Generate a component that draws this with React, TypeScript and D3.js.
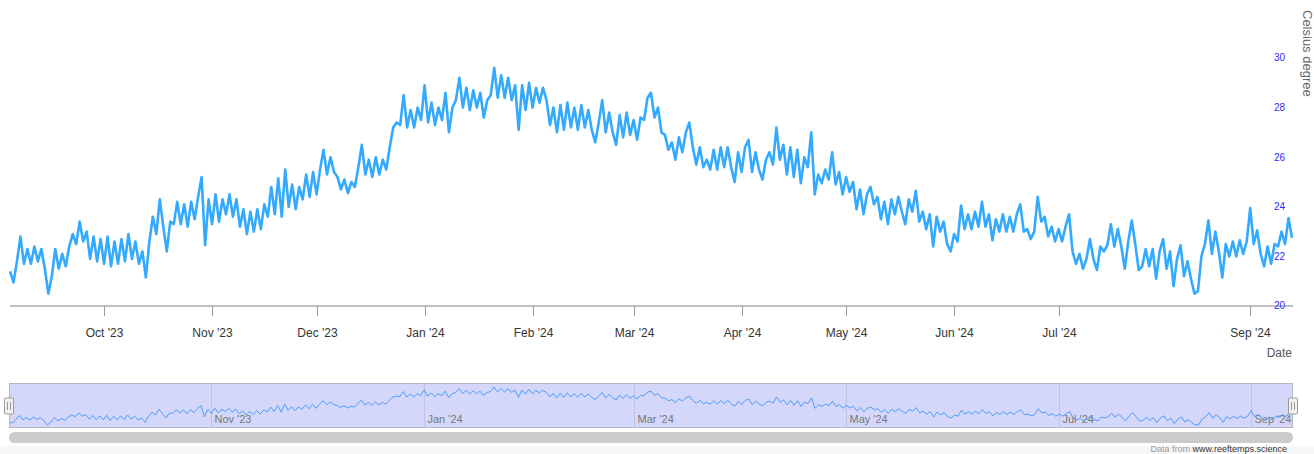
import React from "react";
import * as d3 from "d3";

// ---- data ----
const SEGMENT_A: [string, string] = ["2023-09-04", "2024-08-01"]; // [start, end)
const SEGMENT_B: [string, string] = ["2024-08-08", "2024-09-14"]; // [start, end) after a data gap

const temps: number[] = [
  21.4, 20.95, 21.8, 22.8, 21.7, 22.3, 21.7, 22.4, 21.8, 22.3,
  21.5, 20.5, 21.2, 22.3, 21.5, 22.1, 21.6, 22.4, 22.9, 22.5,
  23.4, 22.6, 23.0, 21.9, 22.8, 21.8, 22.7, 21.7, 22.8, 21.6,
  22.6, 21.7, 22.7, 21.8, 22.9, 21.9, 22.6, 21.7, 22.2, 21.15,
  22.6, 23.6, 22.9, 24.3, 23.2, 22.2, 23.4, 23.3, 24.2, 23.3,
  24.1, 23.2, 24.2, 23.5, 24.4, 25.2, 22.45, 24.3, 23.3, 24.5,
  23.4, 24.3, 23.7, 24.5, 23.6, 24.3, 23.2, 23.9, 22.9, 23.8,
  23.0, 23.9, 23.1, 24.1, 23.6, 24.8, 23.7, 25.15, 23.6, 25.5,
  24.0, 24.9, 23.9, 24.8, 24.3, 25.3, 24.4, 25.4, 24.5, 25.5,
  26.3, 25.3, 26.0, 25.4, 25.2, 24.7, 25.1, 24.55, 25.0, 24.8,
  25.6, 26.5, 25.3, 25.9, 25.2, 26.0, 25.3, 25.9, 25.5, 26.4,
  27.2, 27.4, 27.3, 28.5, 27.2, 27.9, 27.2, 28.0, 27.5, 28.9,
  27.4, 28.2, 27.3, 28.0, 27.5, 28.6, 27.0, 28.0, 28.3, 29.2,
  28.0, 28.8, 27.9, 28.7, 28.0, 28.6, 27.6, 28.3, 28.5, 29.6,
  28.4, 29.3, 28.4, 29.2, 28.3, 28.9, 27.1, 28.9, 27.9, 29.0,
  28.0, 28.8, 28.2, 28.8, 28.3, 27.3, 28.0, 27.0, 28.1, 27.1,
  28.2, 27.2, 28.0, 27.1, 28.1, 27.2, 27.9, 27.1, 26.6, 27.4,
  28.3, 27.0, 27.8, 27.0, 26.5, 27.7, 26.8, 27.8, 26.9, 27.5,
  26.7, 27.6, 27.5, 28.4, 28.6, 27.6, 28.0, 27.0, 26.9, 26.3,
  26.6, 25.9, 26.8, 26.2, 27.0, 27.4, 26.4, 25.7, 26.4, 25.6,
  25.9, 25.5, 26.3, 25.5, 26.4, 25.6, 26.4, 25.6, 25.0, 26.2,
  25.4, 26.4, 26.7, 25.4, 26.2, 25.5, 25.1, 25.9, 26.2, 25.7,
  27.2, 25.9, 26.5, 25.3, 26.4, 25.2, 26.3, 24.95, 26.0, 25.6,
  27.0, 24.5, 25.3, 24.95, 25.5, 25.1, 26.2, 24.9, 25.4, 24.5,
  25.2, 24.6, 25.0, 23.9, 24.7, 23.7, 24.5, 24.8, 24.1, 24.4,
  23.5, 24.2, 23.3, 24.3, 23.7, 24.4, 23.8, 23.3, 24.3, 23.8,
  24.65, 23.4, 23.8, 23.1, 23.7, 22.4, 23.6, 23.0, 23.4, 22.5,
  22.2, 22.9, 22.6, 24.05, 23.1, 23.7, 23.1, 23.8, 23.2, 24.2,
  23.2, 23.7, 22.65, 23.5, 23.0, 23.7, 23.0, 23.6, 23.0, 23.7,
  24.1, 23.0, 23.1, 22.7, 23.0, 24.4, 23.4, 23.6, 22.8, 23.2,
  22.6, 23.1, 22.6, 23.2, 23.7, 22.2, 21.7, 22.1, 21.5, 21.9,
  22.7, 21.9, 21.45, 22.4, 22.2, 22.45, 23.3, 22.4, 23.1, 22.4,
  21.5, 22.6, 23.45, 22.5, 21.45, 21.6, 22.3, 21.6, 22.3, 21.1,
  22.2, 22.7, 21.5, 22.2, 20.8, 21.9, 22.45, 21.2, 21.8, 21.1,
  20.5, 20.6, 22.0, 22.5, 23.45, 22.1, 23.0, 22.2, 21.15, 22.5,
  22.0, 22.6, 22.0, 22.65, 22.1, 22.6, 23.95, 22.5, 23.05, 22.1,
  21.6, 22.4, 21.7, 22.5, 22.4, 23.0, 22.5, 23.55, 22.75,
];

const xTickLabels = ["Oct '23", "Nov '23", "Dec '23", "Jan '24", "Feb '24", "Mar '24", "Apr '24", "May '24", "Jun '24", "Jul '24", "Sep '24"];
const xTickDates = ["2023-10-01", "2023-11-01", "2023-12-01", "2024-01-01", "2024-02-01", "2024-03-01", "2024-04-01", "2024-05-01", "2024-06-01", "2024-07-01", "2024-09-01"];
const navTickLabels = ["Nov '23", "Jan '24", "Mar '24", "May '24", "Jul '24", "Sep '24"];
const navTickDates = ["2023-11-01", "2024-01-01", "2024-03-01", "2024-05-01", "2024-07-01", "2024-09-01"];
const yTicks = [20, 22, 24, 26, 28, 30];

const FONT = "'Liberation Sans', Arial, Helvetica, sans-serif";
const W = 1314;
const H = 454;

const parse = d3.utcParse("%Y-%m-%d");

export default function App() {
  const dates: Date[] = [
    ...d3.utcDay.range(parse(SEGMENT_A[0])!, parse(SEGMENT_A[1])!),
    ...d3.utcDay.range(parse(SEGMENT_B[0])!, parse(SEGMENT_B[1])!),
  ];
  const n = Math.min(dates.length, temps.length);
  const data = d3.range(n).map((i) => ({ i, date: dates[i], t: temps[i] }));

  const plot = { left: 10, right: 1292, top: 58, bottom: 306 };
  const x = d3.scaleLinear().domain([0, n - 1]).range([plot.left, plot.right]);
  const y = d3.scaleLinear().domain([20, 30]).range([plot.bottom, plot.top]);

  const idxOf = (s: string) => d3.bisectLeft(dates.map((d) => +d), +parse(s)!);

  const line = d3
    .line<{ i: number; t: number }>()
    .x((d) => x(d.i))
    .y((d) => y(d.t));

  const nav = { left: 9, right: 1293, top: 383, bottom: 428 };
  const xn = d3.scaleLinear().domain([0, n - 1]).range([nav.left, nav.right]);
  const ext = d3.extent(temps) as [number, number];
  const yn = d3.scaleLinear().domain(ext).range([425, 387]);
  const navLine = d3
    .line<{ i: number; t: number }>()
    .x((d) => xn(d.i))
    .y((d) => yn(d.t));

  const handle = (cx: number) => (
    <g>
      <rect x={cx - 4.5} y={398} width={9} height={16} rx={1} fill="#f2f2f2" stroke="#999" strokeWidth={1} />
      <line x1={cx - 1.5} x2={cx - 1.5} y1={402} y2={410} stroke="#999" strokeWidth={1} />
      <line x1={cx + 1.5} x2={cx + 1.5} y1={402} y2={410} stroke="#999" strokeWidth={1} />
    </g>
  );

  return (
    <div style={{ position: "absolute", left: 0, top: 0 }}>
      <svg width={W} height={H} style={{ display: "block", fontFamily: FONT }}>
        <rect x={0} y={0} width={W} height={H} fill="#fff" />
        <rect x={0} y={446} width={W} height={H - 446} fill="#f7f7f7" />

        {/* main series */}
        <path d={line(data) || ""} fill="none" stroke="#33aaff" strokeWidth={2.6} strokeLinejoin="round" />

        {/* x axis */}
        <line x1={plot.left} x2={plot.right + 1} y1={plot.bottom} y2={plot.bottom} stroke="#c0c0c0" strokeWidth={2} />
        {xTickLabels.map((lab, k) => {
          const px = Math.round(x(idxOf(xTickDates[k]))) + 0.5;
          return (
            <g key={lab}>
              <line x1={px} x2={px} y1={plot.bottom} y2={plot.bottom + 10} stroke="#999" strokeWidth={1} />
              <text x={px} y={337} textAnchor="middle" fontSize={12} fill="#333">
                {lab}
              </text>
            </g>
          );
        })}
        <text x={1292} y={357} textAnchor="end" fontSize={12} fill="#555">
          Date
        </text>

        {/* y axis (right) */}
        {yTicks.map((t) => (
          <text key={t} x={1274} y={y(t)} dy="0.33em" textAnchor="start" fontSize={10} fill="#2b2bff">
            {t}
          </text>
        ))}
        <text transform="translate(1303,10) rotate(90)" textAnchor="start" fontSize={13} fill="#666">
          Celsius degree
        </text>

        {/* navigator */}
        <rect x={nav.left} y={nav.top} width={nav.right - nav.left} height={nav.bottom - nav.top} fill="#d4d7fa" />
        {navTickLabels.map((lab, k) => {
          const px = Math.round(xn(idxOf(navTickDates[k]))) + 0.5;
          return (
            <g key={lab}>
              <line x1={px} x2={px} y1={nav.top} y2={nav.bottom} stroke="#bfc2e4" strokeWidth={1} />
              <text x={px + 3} y={423} fontSize={11} fill="#777">
                {lab}
              </text>
            </g>
          );
        })}
        <path d={navLine(data) || ""} fill="none" stroke="#4d9cf5" strokeWidth={1} />
        <rect x={nav.left + 0.5} y={nav.top + 0.5} width={nav.right - nav.left - 1} height={nav.bottom - nav.top - 1} fill="none" stroke="#b5b5c5" strokeWidth={1} />
        {handle(nav.left)}
        {handle(nav.right)}

        {/* scrollbar */}
        <rect x={nav.left} y={432} width={nav.right - nav.left} height={11} rx={5.5} fill="#cbcbcb" />

        {/* credits */}
        <text x={1287} y={452} textAnchor="end" fontSize={9} fill="#999">
          Data from <tspan fill="#333">www.reeftemps.science</tspan>
        </text>
      </svg>
    </div>
  );
}
